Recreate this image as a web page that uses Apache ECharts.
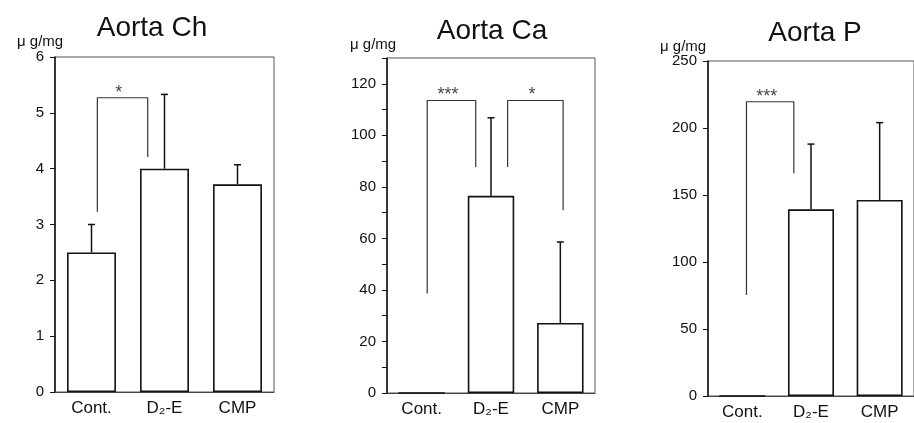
<!DOCTYPE html>
<html>
<head>
<meta charset="utf-8">
<script src="https://cdn.jsdelivr.net/npm/echarts@6/dist/echarts.min.js"></script>
<style>
  html, body { margin: 0; padding: 0; background: #fff; }
  #chart { width: 914px; height: 423px; }
</style>
</head>
<body>
<div id="chart"></div>
<script>
// groups on the x axis
var categories = ['Cont.', 'D\u2082-E', 'CMP'];

// Aorta Ch (ug/mg)
var chMean = [2.5, 4.0, 3.72];
var chErrTop = [3.0, 5.33, 4.07];
// Aorta Ca (ug/mg)
var caMean = [0, 76.5, 27.2];
var caErrTop = [null, 106.8, 58.6];
// Aorta P (ug/mg)
var pMean = [0, 139.3, 146.3];
var pErrTop = [null, 188, 204];

// significance brackets: [xLeft, xRight, top, leftLegEnd, rightLegEnd, mark]
var chBrackets = [[0.08, 0.77, 5.27, 3.23, 4.21, '*']];
var caBrackets = [[0.08, 0.78, 113.5, 38.6, 87.7, '***'], [1.24, 2.04, 113.5, 87.7, 70.9, '*']];
var pBrackets = [[0.06, 0.75, 219.6, 75.4, 166.2, '***']];

// y axis ticks
var chTicks = { max: 6, interval: 1 };
var caTicks = { max: 130, interval: 10, labelEvery: 20 };
var pTicks = { max: 250, interval: 50 };

var FONT = '"Liberation Sans", Arial, sans-serif';
var INK = '#111';

var myChart = echarts.init(document.getElementById('chart'));

var panels = [
  { title: 'Aorta Ch', titleX: 147, titleY: 9, unitX: 12, unitY: 29, grid: { left: 55, top: 57, width: 219, height: 335 }, mean: chMean, err: chErrTop, brackets: chBrackets, ticks: chTicks },
  { title: 'Aorta Ca', titleX: 487, titleY: 12, unitX: 345, unitY: 32, grid: { left: 387, top: 58, width: 208, height: 335 }, mean: caMean, err: caErrTop, brackets: caBrackets, ticks: caTicks },
  { title: 'Aorta P', titleX: 810, titleY: 14, unitX: 655, unitY: 34, grid: { left: 708, top: 61, width: 214, height: 335 }, mean: pMean, err: pErrTop, brackets: pBrackets, ticks: pTicks }
];

function errorBar(params, api) {
  var base = api.coord([api.value(0), api.value(2)]);
  var top = api.coord([api.value(0), api.value(1)]);
  var st = { stroke: INK, lineWidth: 1.5 };
  return {
    type: 'group',
    children: [
      { type: 'line', shape: { x1: base[0], y1: base[1], x2: top[0], y2: top[1] }, style: st },
      { type: 'line', shape: { x1: top[0] - 3.5, y1: top[1], x2: top[0] + 3.5, y2: top[1] }, style: st }
    ]
  };
}

var option = {
  animation: false,
  title: [],
  grid: [],
  xAxis: [],
  yAxis: [],
  series: []
};

panels.forEach(function (p, i) {
  option.title.push({
    text: p.title, left: p.titleX, top: p.titleY, textAlign: 'center',
    textStyle: { fontFamily: FONT, fontSize: 28, fontWeight: 'normal', color: INK }
  });
  option.title.push({
    text: '\u03bc g/mg', left: p.unitX, top: p.unitY,
    textStyle: { fontFamily: FONT, fontSize: 15, fontWeight: 'normal', color: INK }
  });

  option.grid.push(Object.assign({ show: true, borderColor: '#555', borderWidth: 1, backgroundColor: 'transparent' }, p.grid));

  option.xAxis.push({
    type: 'category', gridIndex: i, data: categories,
    axisLine: { onZero: false, lineStyle: { color: '#444', width: 1 } },
    axisTick: { show: false },
    axisLabel: { fontFamily: FONT, fontSize: 17, color: INK, margin: 8 }
  });
  option.xAxis.push({
    type: 'value', gridIndex: i, min: -0.5, max: 2.5, show: false
  });

  var t = p.ticks;
  option.yAxis.push({
    type: 'value', gridIndex: i, min: 0, max: t.max, interval: t.interval,
    axisLine: { show: true, onZero: false, lineStyle: { color: INK, width: 1.5 } },
    axisTick: { show: true, length: 5, lineStyle: { color: INK } },
    splitLine: { show: false },
    axisLabel: {
      fontFamily: FONT, fontSize: 15, color: INK, margin: 11,
      formatter: function (v) {
        if (t.labelEvery && v % t.labelEvery !== 0) return '';
        if (v > t.max - 1e-9 && t.max % (t.labelEvery || t.interval) !== 0) return '';
        return v;
      }
    }
  });

  option.series.push({
    type: 'bar', xAxisIndex: i * 2, yAxisIndex: i, data: p.mean, barWidth: '67%',
    itemStyle: { color: '#fff', borderColor: INK, borderWidth: 1.6 }
  });

  var errData = [];
  p.err.forEach(function (v, k) { if (v !== null) errData.push([k, v, p.mean[k]]); });
  option.series.push({
    type: 'custom', xAxisIndex: i * 2, yAxisIndex: i, renderItem: errorBar, data: errData, z: 3
  });

  p.brackets.forEach(function (b) {
    option.series.push({
      type: 'line', xAxisIndex: i * 2 + 1, yAxisIndex: i, symbol: 'none',
      lineStyle: { color: '#333', width: 1.2 },
      data: [[b[0], b[3]], [b[0], b[2]], [b[1], b[2]], [b[1], b[4]]], z: 4
    });
    option.series.push({
      type: 'scatter', xAxisIndex: i * 2 + 1, yAxisIndex: i, symbolSize: 0,
      data: [{ value: [(b[0] + b[1]) / 2 - 0.05, b[2]], name: b[5] }],
      label: { show: true, position: 'top', distance: -4, formatter: '{b}', fontFamily: FONT, fontSize: 18, color: INK }
    });
  });
});

myChart.setOption(option);
window.addEventListener('resize', function () { myChart.resize(); });
</script>
</body>
</html>
